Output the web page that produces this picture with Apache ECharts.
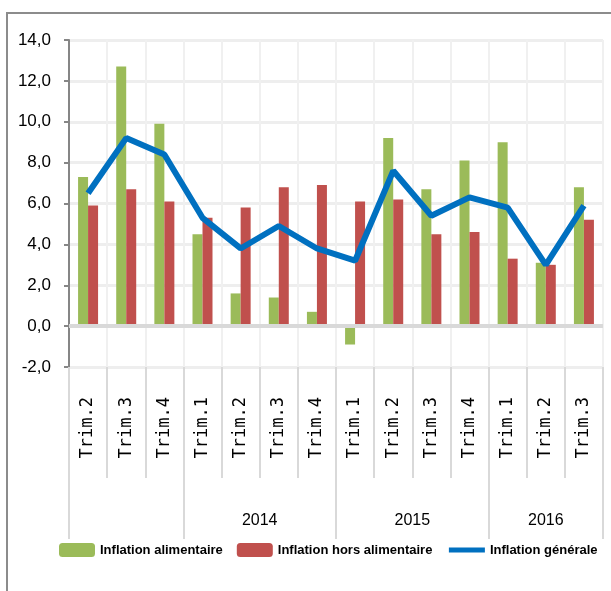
<!DOCTYPE html>
<html style="height: 100%">
    <head>
        <meta charset="utf-8">
    </head>
    <body style="height: 100%; margin: 0; background: #fff;">
        <div id="container" style="width: 611px; height: 591px;"></div>
        <script src="https://cdn.jsdelivr.net/npm/echarts@6/dist/echarts.min.js"></script>
        <script>
        // quarters and the year each group belongs to
        var quarters = ['Trim.2', 'Trim.3', 'Trim.4',
                        'Trim.1', 'Trim.2', 'Trim.3', 'Trim.4',
                        'Trim.1', 'Trim.2', 'Trim.3', 'Trim.4',
                        'Trim.1', 'Trim.2', 'Trim.3'];
        var years = ['', '2014', '2015', '2016'];
        var yearSizes = [3, 4, 4, 3];

        var alimentaire = [7.3, 12.7, 9.9, 4.5, 1.6, 1.4, 0.7, -0.9, 9.2, 6.7, 8.1, 9.0, 3.1, 6.8];
        var horsAlimentaire = [5.9, 6.7, 6.1, 5.3, 5.8, 6.8, 6.9, 6.1, 6.2, 4.5, 4.6, 3.3, 3.0, 5.2];
        var generale = [6.5, 9.2, 8.4, 5.3, 3.8, 4.9, 3.8, 3.2, 7.6, 5.4, 6.3, 5.8, 3.0, 5.9];

        var sans = "'Liberation Sans', Arial, sans-serif";

        // group boundaries and centres, on a 0..n value scale
        var bounds = [0], centres = [], centreYear = {};
        yearSizes.forEach(function (n, i) {
            var start = bounds[bounds.length - 1];
            bounds.push(start + n);
            centres.push(start + n / 2);
            centreYear[start + n / 2] = years[i];
        });

        var chart = echarts.init(document.getElementById('container'));

        var option = {
            animation: false,
            graphic: [{
                type: 'rect',
                shape: { x: 7, y: 13, width: 640, height: 620 },
                style: { fill: 'none', stroke: '#8c8c8c', lineWidth: 2 },
                silent: true
            }],
            grid: { left: 69, right: 8, top: 40, bottom: 224 },
            legend: {
                left: 54,
                top: 538,
                itemWidth: 36,
                itemHeight: 14,
                itemGap: 14,
                textStyle: { fontFamily: sans, fontWeight: 'bold', fontSize: 13, color: '#000' },
                data: [
                    'Inflation alimentaire',
                    'Inflation hors alimentaire',
                    {
                        name: 'Inflation générale',
                        itemStyle: { color: 'rgba(0,0,0,0)', borderWidth: 0 },
                        lineStyle: { width: 5 }
                    }
                ]
            },
            xAxis: [{
                type: 'category',
                data: quarters,
                axisLine: { show: false, onZero: false },
                axisTick: { show: true, interval: 0, length: 111, lineStyle: { color: '#d9d9d9', width: 2 } },
                axisLabel: {
                    interval: 0,
                    rotate: 90,
                    margin: 30,
                    fontFamily: "'DejaVu Sans Mono', monospace",
                    fontSize: 17,
                    color: '#000'
                },
                splitLine: { show: true, interval: 0, lineStyle: { color: '#f0f0f0', width: 2 } }
            }, {
                type: 'value',
                position: 'bottom',
                min: 0,
                max: quarters.length,
                axisLine: { show: false, onZero: false },
                splitLine: { show: false },
                axisTick: { show: true, customValues: bounds, length: 172, lineStyle: { color: '#d9d9d9', width: 2 } },
                axisLabel: {
                    customValues: centres,
                    margin: 146,
                    fontFamily: sans,
                    fontSize: 16,
                    color: '#000',
                    formatter: function (v) { return centreYear[v] || ''; }
                }
            }],
            yAxis: {
                type: 'value',
                min: -2,
                max: 14,
                interval: 2,
                axisLine: { show: true, lineStyle: { color: '#868686', width: 2 } },
                axisTick: { show: true, length: 5, lineStyle: { color: '#868686', width: 2 } },
                axisLabel: {
                    margin: 18,
                    fontFamily: sans,
                    fontSize: 17,
                    color: '#000',
                    formatter: function (v) { return v.toFixed(1).replace('.', ','); }
                },
                splitLine: { lineStyle: { color: '#eeeeee', width: 3 } }
            },
            series: [{
                name: 'Inflation alimentaire',
                type: 'bar',
                xAxisIndex: 0,
                data: alimentaire,
                barWidth: 10,
                barGap: '0%',
                itemStyle: { color: '#9bbb59' },
                markLine: {
                    silent: true,
                    symbol: 'none',
                    label: { show: false },
                    lineStyle: { color: '#d9d9d9', width: 4, type: 'solid' },
                    data: [{ yAxis: 0 }]
                }
            }, {
                name: 'Inflation hors alimentaire',
                type: 'bar',
                xAxisIndex: 0,
                data: horsAlimentaire,
                barWidth: 10,
                barGap: '0%',
                itemStyle: { color: '#c0504d' }
            }, {
                name: 'Inflation générale',
                type: 'line',
                xAxisIndex: 0,
                data: generale,
                symbol: 'none',
                z: 5,
                lineStyle: { color: '#0070c0', width: 6 },
                itemStyle: { color: '#0070c0' }
            }]
        };

        chart.setOption(option);
        </script>
    </body>
</html>
